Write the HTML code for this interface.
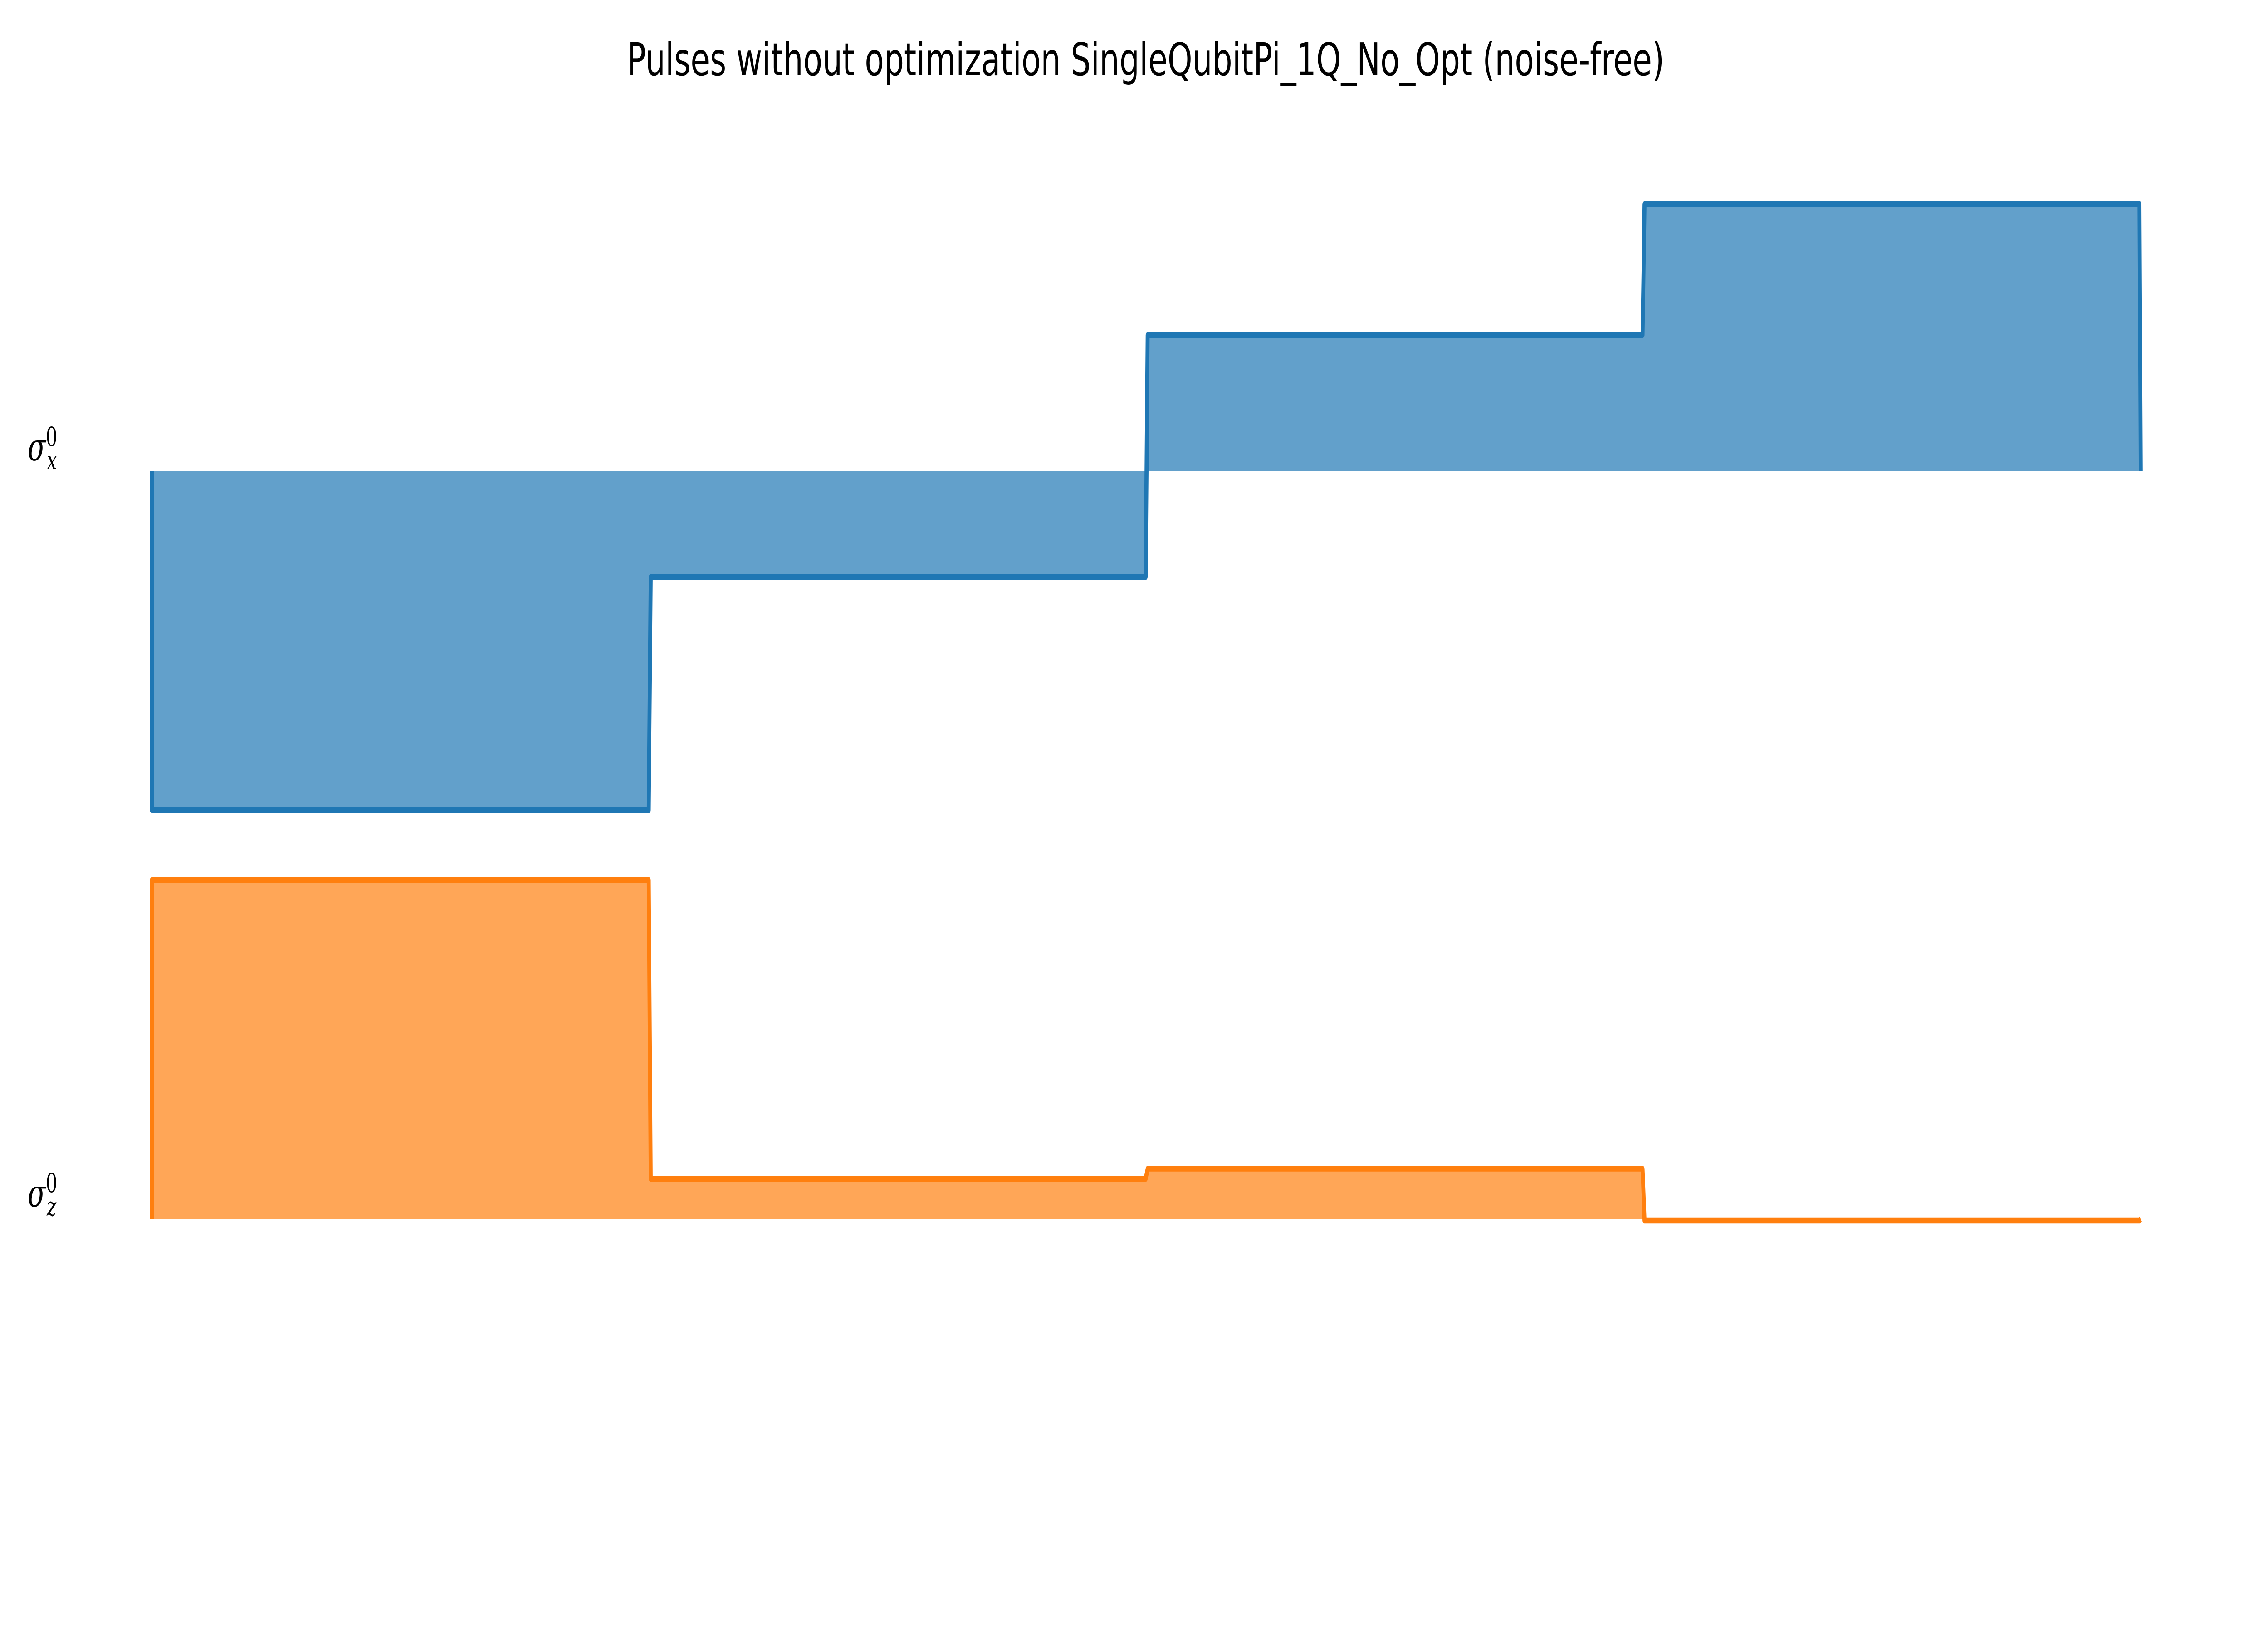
<!DOCTYPE html>
<html><head><meta charset="utf-8"><style>
html,body{margin:0;padding:0;background:#fff;width:100%;height:100%;overflow:hidden;}
svg{display:block;width:100vw;height:100vh;}
</style></head><body>
<svg id="chart" xmlns="http://www.w3.org/2000/svg" viewBox="0 0 7200 3600" preserveAspectRatio="none">
<text x="3637" y="166" text-anchor="middle" font-family="DejaVu Sans, Liberation Sans, sans-serif" font-size="100" fill="#000">Pulses without optimization SingleQubitPi_1Q_No_Opt (noise-free)</text>
<text x="88" y="1015" font-family="DejaVu Serif, Liberation Serif, serif" font-style="italic" font-size="84" fill="#000">σ<tspan font-size="58" dy="-32" font-style="normal">0</tspan><tspan font-size="58" dx="-34" dy="52">x</tspan></text>
<text x="88" y="2660" font-family="DejaVu Serif, Liberation Serif, serif" font-style="italic" font-size="84" fill="#000">σ<tspan font-size="58" dy="-32" font-style="normal">0</tspan><tspan font-size="58" dx="-34" dy="52">z</tspan></text>
<g id="plot"></g>
</svg>
<script>
const segments = [0, 1, 2, 3, 4];
const sigmaXValues = [-1.0, -0.313, 0.40, 0.786];
const sigmaZValues = [1.0, 0.119, 0.149, -0.004];
const channelNames = ["sigma-x", "sigma-z"];

const x0 = 482, x1 = 6792;
const k = 748;
const baselines = [1038, 2688];
const strokes = ["#1f77b4", "#ff7f0e"];
const fills = ["#62a0cb", "#ffa657"];
function xScale(t){ return x0 + (x1 - x0) * t / (segments[segments.length-1]); }
function yScale(v, ch){ return baselines[ch] - v * k; }

const ns = "http://www.w3.org/2000/svg";
const g = document.getElementById("plot");
[sigmaXValues, sigmaZValues].forEach((vals, ch) => {
  const ramp = 0.004;
  let pts = [[xScale(0), yScale(0, ch)]];
  vals.forEach((v, i) => {
    const a = i === 0 ? xScale(segments[i]) : xScale(segments[i] + ramp);
    pts.push([a, yScale(v, ch)]);
    pts.push([xScale(segments[i+1]), yScale(v, ch)]);
  });
  pts.push([xScale(segments[segments.length-1]) + 4, yScale(0, ch)]);
  const d = pts.map((p, i) => (i ? "L" : "M") + p[0].toFixed(1) + "," + p[1].toFixed(1)).join("");
  const fill = document.createElementNS(ns, "path");
  fill.setAttribute("d", d + "Z");
  fill.setAttribute("fill", fills[ch]);
  
  
  g.appendChild(fill);
  const line = document.createElementNS(ns, "path");
  line.setAttribute("d", d);
  line.setAttribute("fill", "none");
  line.setAttribute("stroke", strokes[ch]);
  line.setAttribute("stroke-width", "12.5");
  line.setAttribute("stroke-linejoin", "round");
  
  
  g.appendChild(line);
});
</script>
</body></html>
